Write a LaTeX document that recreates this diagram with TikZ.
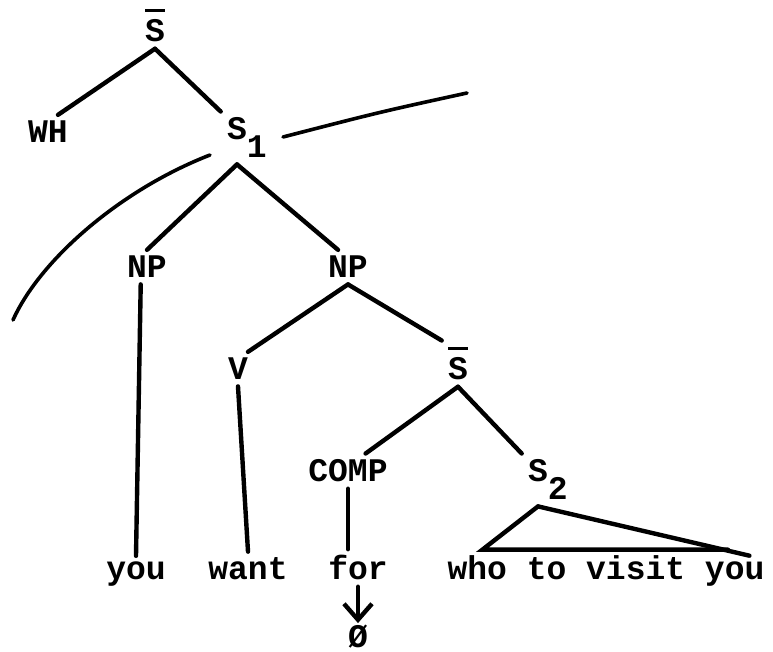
\documentclass[tikz,border=0pt]{standalone}
\usepackage{fontspec}
\setmonofont{Liberation Mono}
\usetikzlibrary{arrows.meta,calc}
\newcommand{\barcat}[1]{\vbox{\hrule height 1.5pt\kern 4pt\hbox{#1}}}
\newcommand{\subcat}[2]{#1\rlap{\raisebox{-9pt}{#2}}}
\tikzstyle{catNode}=[inner sep=3pt, anchor=base,
  font=\ttfamily\bfseries\fontsize{16.5}{20}\selectfont]
\tikzstyle{wordNode}=[inner sep=3pt, anchor=base,
  font=\ttfamily\bfseries\fontsize{16.5}{20}\selectfont]
\tikzstyle{branch}=[line width=2.2pt, line cap=round]
\tikzstyle{domainArc}=[line width=1.8pt, line cap=round]

\begin{document}
\begin{tikzpicture}[x=0.5pt, y=-0.5pt]
\useasboundingbox (0,0) rectangle (773,652);
% categories
\node[catNode] (sbarA) at (155,42) {\barcat{S}};
\node[catNode] (wh) at (48,143) {WH};
\node[catNode] (sa) at (237,140) {\subcat{S}{1}};
\node[catNode] (npa) at (147,278) {NP};
\node[catNode] (npb) at (348,278) {NP};
\node[catNode] (v) at (238,380) {V};
\node[catNode] (sbarB) at (458,380) {\barcat{S}};
\node[catNode] (comp) at (348,482) {COMP};
\node[catNode] (sb) at (538,482) {\subcat{S}{2}};
% words
\node[wordNode] (you) at (136,580) {you};
\node[wordNode] (want) at (248,580) {want};
\node[wordNode] (for) at (358,580) {for};
\node[wordNode] (phrase) at (606,580) {who to visit you};
\node[wordNode, inner sep=1pt] (null) at (358,648) {Ø};
% branches
\draw[branch] (sbarA.south) -- (wh.60);
\draw[branch] (sbarA.south) -- (sa.north west);
\draw[branch] (sa.south) -- (npa.north);
\draw[branch] (sa.south) -- (npb.120);
\draw[branch] (npa.250) -- (you.north);
\draw[branch] (npb.south) -- (v.60);
\draw[branch] (npb.south) -- (sbarB.north west);
\draw[branch] (v.south) -- (want.north);
\draw[branch] (sbarB.south) -- (comp.45);
\draw[branch] (sbarB.south) -- (sb.north west);
\draw[branch] (comp.south) -- (comp.south |- for.north);
\draw[branch] (sb.south) -- ($(phrase.north west)!0.125!(phrase.north east)$)
  -- ($(phrase.north west)!0.87!(phrase.north east)$);
\draw[branch] (sb.south) -- ($(phrase.north west)!0.935!(phrase.north east)+(0,6)$);
\draw[branch, -{Straight Barb[length=8pt, width=14pt]}] (for.south) -- (null.north);
% domain arcs
\coordinate (arcLa) at (210,155);
\coordinate (arcLb) at (13,320);
\coordinate (arcRa) at (283,137);
\coordinate (arcRb) at (467,93);
\draw[domainArc] (arcLa) .. controls (120,190) and (40,260) .. (arcLb);
\draw[domainArc] (arcRa) .. controls (380,112) .. (arcRb);
\end{tikzpicture}
\end{document}
